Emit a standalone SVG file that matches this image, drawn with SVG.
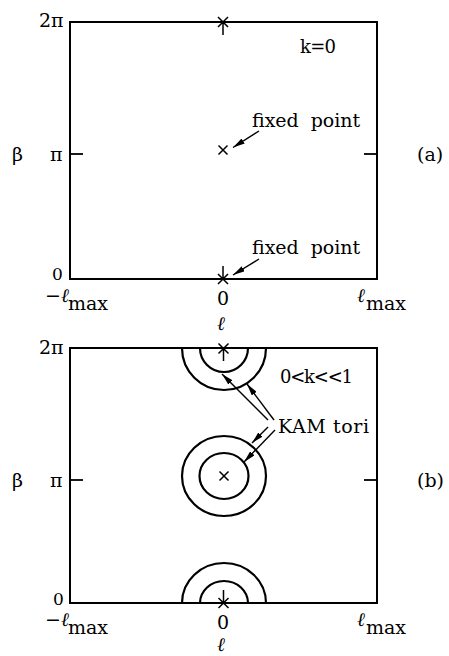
<svg xmlns="http://www.w3.org/2000/svg" width="449" height="656" viewBox="0 0 449 656">
<defs>
<marker id="ah" viewBox="0 0 12 6" refX="12" refY="3" markerWidth="12" markerHeight="6" markerUnits="userSpaceOnUse" orient="auto">
<path d="M0,0 L12,3 L0,6 z" fill="#000"/>
</marker>
</defs>
<style>
.box{fill:none;stroke:#000;stroke-width:2}
.tk{stroke:#000;stroke-width:1.8}
.cr{fill:none;stroke:#000;stroke-width:2.2}
.mk{stroke:#000;stroke-width:1.5;fill:none}
.ar{stroke:#000;stroke-width:1.4;fill:none;marker-end:url(#ah)}
text{font-family:"DejaVu Serif","Liberation Serif",serif;fill:#000}
.t{font-size:19px}
.s{font-size:18px}
.z{font-size:17px}
.it{font-style:italic}
</style>
<g id="panel-a">
<rect class="box" x="70" y="22" width="307" height="257"/>
<line class="tk" x1="70" y1="154" x2="83" y2="154"/>
<line class="tk" x1="364" y1="154" x2="377" y2="154"/>
<g id="a-top-point"><path class="mk" d="M218,17 L228,27 M228,17 L218,27 M223,22 L223,35"/></g>
<g id="a-mid-point"><path class="mk" d="M218.5,145.5 L227.5,154.5 M227.5,145.5 L218.5,154.5"/></g>
<g id="a-bot-point"><path class="mk" d="M218,274 L228,284 M228,274 L218,284 M223,279 L223,266"/></g>
<text class="s" x="300" y="53" textLength="36">k=0</text>
<text class="t" x="252" y="127" textLength="108" xml:space="preserve">fixed  point</text>
<text class="t" x="252" y="254" textLength="108" xml:space="preserve">fixed  point</text>
<text class="t" x="39" y="27">2π</text>
<text class="t" x="50" y="161">π</text>
<text class="t" x="12" y="161">β</text>
<text class="t" x="417" y="161">(a)</text>
<text class="z" x="52" y="280">0</text>
<text class="t" x="45" y="302">−<tspan class="it">ℓ</tspan><tspan x="68" y="310">max</tspan></text>
<text class="t" x="217" y="305">0</text>
<text class="t" x="357" y="302"><tspan class="it">ℓ</tspan><tspan x="366" y="310">max</tspan></text>
<text class="t it" x="217" y="330">ℓ</text>
</g>
<g id="panel-b">
<rect class="box" x="70" y="348" width="307" height="255"/>
<line class="tk" x1="70" y1="480" x2="83" y2="480"/>
<line class="tk" x1="364" y1="480" x2="377" y2="480"/>
<g id="b-top-tori">
<path class="cr" d="M182,348 A42,42 0 0 0 266,348"/>
<path class="cr" d="M200,348 A24,24 0 0 0 248,348"/>
<path class="mk" d="M218.5,343.5 L228.5,353.5 M228.5,343.5 L218.5,353.5 M223.5,348 L223.5,361"/>
</g>
<g id="b-mid-tori">
<ellipse class="cr" cx="224" cy="476" rx="42" ry="40"/>
<ellipse class="cr" cx="224" cy="476" rx="24.5" ry="23"/>
<path class="mk" d="M219.5,471.5 L228.5,480.5 M228.5,471.5 L219.5,480.5"/>
</g>
<g id="b-bot-tori">
<path class="cr" d="M182,603 A42,40 0 0 1 266,603"/>
<path class="cr" d="M200,603 A24,22 0 0 1 248,603"/>
<path class="mk" d="M218.5,598 L228.5,608 M228.5,598 L218.5,608 M223.5,603 L223.5,590"/>
</g>
<text class="s" x="280" y="383" textLength="73">0&lt;k&lt;&lt;1</text>
<text class="t" x="278" y="433" textLength="91">KAM tori</text>
<text class="t" x="39" y="354">2π</text>
<text class="t" x="50" y="487">π</text>
<text class="t" x="12" y="487">β</text>
<text class="t" x="417" y="487">(b)</text>
<text class="z" x="53" y="605">0</text>
<text class="t" x="45" y="626">−<tspan class="it">ℓ</tspan><tspan x="68" y="634">max</tspan></text>
<text class="t" x="217" y="629">0</text>
<text class="t" x="357" y="626"><tspan class="it">ℓ</tspan><tspan x="366" y="634">max</tspan></text>
<text class="t it" x="217" y="651">ℓ</text>
</g>
<g id="connectors">
<line class="ar" x1="259" y1="131" x2="233" y2="147.5"/>
<line class="ar" x1="259" y1="259" x2="233" y2="275"/>
<line class="ar" x1="268" y1="420" x2="222" y2="374"/>
<line class="ar" x1="274" y1="420" x2="247" y2="384"/>
<line class="ar" x1="268" y1="427" x2="252" y2="443"/>
<line class="ar" x1="275" y1="430" x2="244" y2="462"/>
</g>
</svg>
